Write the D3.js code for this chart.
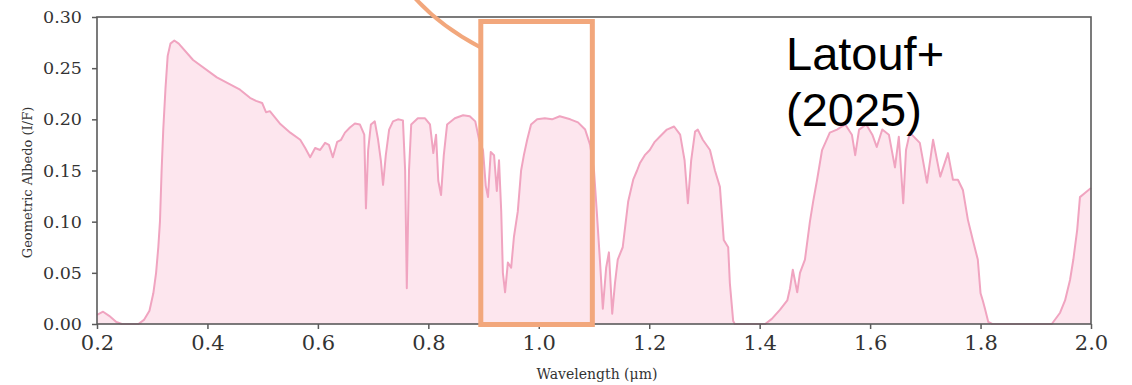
<!DOCTYPE html>
<html>
<head>
<meta charset="utf-8">
<script src="https://cdn.jsdelivr.net/npm/d3@7"></script>
<style>
  html, body { margin: 0; padding: 0; background: #fff; }
  svg { display: block; }
</style>
</head>
<body>
<svg id="chart" width="1132" height="385"></svg>
<script>
// Reflected-light spectrum: wavelength (µm) and geometric albedo (I/F)
const wavelength = [
  0.200, 0.211, 0.222, 0.235, 0.245, 0.275, 0.285, 0.295, 0.302, 0.307,
  0.311, 0.314, 0.317, 0.320, 0.324, 0.328, 0.333, 0.340, 0.348, 0.374,
  0.417, 0.459, 0.477, 0.488, 0.499, 0.506, 0.513, 0.531, 0.550, 0.568,
  0.577, 0.586, 0.595, 0.604, 0.613, 0.620, 0.627, 0.635, 0.642, 0.649,
  0.658, 0.667, 0.676, 0.684, 0.687, 0.691, 0.696, 0.703, 0.709, 0.714,
  0.718, 0.723, 0.729, 0.736, 0.745, 0.754, 0.758, 0.761, 0.765, 0.769,
  0.781, 0.794, 0.803, 0.809, 0.814, 0.818, 0.823, 0.828, 0.834, 0.848,
  0.863, 0.875, 0.885, 0.892, 0.899, 0.904, 0.908, 0.913, 0.919, 0.924,
  0.928, 0.932, 0.935, 0.939, 0.944, 0.950, 0.955, 0.962, 0.968, 0.973,
  0.979, 0.986, 0.997, 1.011, 1.024, 1.038, 1.057, 1.071, 1.084, 1.093,
  1.100, 1.105, 1.111, 1.116, 1.122, 1.127, 1.133, 1.138, 1.143, 1.152,
  1.162, 1.171, 1.178, 1.183, 1.192, 1.201, 1.210, 1.219, 1.232, 1.245,
  1.256, 1.264, 1.270, 1.276, 1.283, 1.288, 1.297, 1.310, 1.319, 1.328,
  1.335, 1.343, 1.346, 1.352, 1.355, 1.410, 1.422, 1.437, 1.450, 1.455,
  1.460, 1.468, 1.473, 1.482, 1.491, 1.497, 1.504, 1.513, 1.527, 1.540,
  1.555, 1.567, 1.573, 1.580, 1.593, 1.604, 1.612, 1.622, 1.634, 1.645,
  1.652, 1.660, 1.665, 1.672, 1.690, 1.703, 1.714, 1.727, 1.741, 1.750,
  1.759, 1.768, 1.777, 1.786, 1.795, 1.800, 1.804, 1.808, 1.814, 1.821,
  1.929, 1.944, 1.953, 1.962, 1.968, 1.975, 1.980, 1.989, 2.000
];
const albedo = [
  0.009, 0.012, 0.008, 0.002, 0.000, 0.000, 0.004, 0.013, 0.030, 0.050,
  0.075, 0.100, 0.150, 0.190, 0.230, 0.262, 0.274, 0.277, 0.274, 0.258,
  0.241, 0.229, 0.221, 0.218, 0.216, 0.207, 0.208, 0.196, 0.187, 0.180,
  0.172, 0.163, 0.172, 0.170, 0.177, 0.175, 0.163, 0.178, 0.180, 0.187,
  0.192, 0.196, 0.195, 0.185, 0.113, 0.170, 0.195, 0.198, 0.180, 0.160,
  0.136, 0.165, 0.190, 0.198, 0.200, 0.199, 0.150, 0.035, 0.150, 0.195,
  0.201, 0.201, 0.195, 0.167, 0.185, 0.140, 0.126, 0.165, 0.195, 0.201,
  0.204, 0.203, 0.198, 0.180, 0.170, 0.135, 0.124, 0.168, 0.165, 0.130,
  0.160, 0.110, 0.050, 0.031, 0.060, 0.055, 0.085, 0.110, 0.150, 0.165,
  0.180, 0.195, 0.200, 0.201, 0.200, 0.203, 0.200, 0.197, 0.190, 0.175,
  0.150, 0.110, 0.060, 0.015, 0.055, 0.070, 0.010, 0.040, 0.063, 0.075,
  0.120, 0.141, 0.150, 0.157, 0.165, 0.170, 0.178, 0.183, 0.190, 0.193,
  0.185, 0.160, 0.118, 0.160, 0.188, 0.190, 0.180, 0.170, 0.150, 0.134,
  0.082, 0.075, 0.040, 0.003, 0.000, 0.000, 0.005, 0.014, 0.023, 0.035,
  0.053, 0.031, 0.050, 0.063, 0.100, 0.120, 0.141, 0.170, 0.187, 0.190,
  0.195, 0.185, 0.165, 0.190, 0.195, 0.185, 0.173, 0.190, 0.185, 0.153,
  0.183, 0.118, 0.170, 0.187, 0.177, 0.138, 0.180, 0.144, 0.167, 0.141,
  0.141, 0.131, 0.102, 0.082, 0.063, 0.030, 0.023, 0.015, 0.002, 0.000,
  0.000, 0.011, 0.023, 0.043, 0.063, 0.092, 0.124, 0.128, 0.133
];
const xTicks = [0.2, 0.4, 0.6, 0.8, 1.0, 1.2, 1.4, 1.6, 1.8, 2.0];
const yTicks = [0.00, 0.05, 0.10, 0.15, 0.20, 0.25, 0.30];
const xLabel = "Wavelength (\u03bcm)";
const yLabel = "Geometric Albedo (I/F)";
const citation = ["Latouf+", "(2025)"];
// highlighted wavelength window (µm)
const highlight = [0.895, 1.097];

const svg = d3.select("#chart");
const margin = { left: 97, right: 41, top: 17, bottom: 61 };
const W = 1132, H = 385;

const x = d3.scaleLinear().domain([0.2, 2.0]).range([margin.left, W - margin.right]);
const y = d3.scaleLinear().domain([0, 0.30]).range([H - margin.bottom, margin.top]);

const pts = wavelength.map((w, i) => [w, albedo[i]]);

const serif = "'DejaVu Serif', serif";
const axisColor = "#5a5a5a";
const textColor = "#333";

// filled spectrum
svg.append("path")
  .datum(pts)
  .attr("fill", "#fde6ee")
  .attr("d", d3.area().x(d => x(d[0])).y0(y(0)).y1(d => y(d[1])));

svg.append("path")
  .datum(pts)
  .attr("fill", "none")
  .attr("stroke", "#f0a4c0")
  .attr("stroke-width", 2)
  .attr("stroke-linejoin", "round")
  .attr("d", d3.line().x(d => x(d[0])).y(d => y(d[1])));

// axes
const xAxis = svg.append("g")
  .attr("transform", `translate(0,${y(0)})`)
  .call(d3.axisBottom(x).tickValues(xTicks).tickFormat(d3.format(".1f")).tickSize(5).tickPadding(6));
xAxis.selectAll("text").attr("font-family", serif).attr("font-size", 21).attr("fill", textColor);

const yAxis = svg.append("g")
  .attr("transform", `translate(${x(0.2)},0)`)
  .call(d3.axisLeft(y).tickValues(yTicks).tickFormat(d3.format(".2f")).tickSize(5).tickPadding(10));
yAxis.selectAll("text").attr("font-family", serif).attr("font-size", 17.5).attr("fill", textColor);

[xAxis, yAxis].forEach(g => {
  g.select(".domain").remove();
  g.selectAll(".tick line").attr("stroke", axisColor).attr("stroke-width", 1.5);
});

// frame
svg.append("rect")
  .attr("x", x(0.2)).attr("y", y(0.30))
  .attr("width", x(2.0) - x(0.2)).attr("height", y(0) - y(0.30))
  .attr("fill", "none")
  .attr("stroke", axisColor)
  .attr("stroke-width", 1.6);

// axis titles
svg.append("text")
  .attr("x", (x(0.2) + x(2.0)) / 2 + 3)
  .attr("y", 379)
  .attr("text-anchor", "middle")
  .attr("font-family", serif)
  .attr("font-size", 14)
  .attr("fill", textColor)
  .text(xLabel);

svg.append("text")
  .attr("transform", `translate(32,${(y(0) + y(0.30)) / 2 + 12}) rotate(-90)`)
  .attr("text-anchor", "middle")
  .attr("font-family", serif)
  .attr("font-size", 13)
  .attr("fill", textColor)
  .text(yLabel);

// highlighted window and its callout
const orange = "#f2a77c";
svg.append("rect")
  .attr("x", x(highlight[0])).attr("y", 21.5)
  .attr("width", x(highlight[1]) - x(highlight[0]))
  .attr("height", 324.5 - 21.5)
  .attr("fill", "none")
  .attr("stroke", orange)
  .attr("stroke-width", 5);

svg.append("path")
  .attr("d", `M414,-3 Q440,26 ${x(highlight[0]) - 1},47`)
  .attr("fill", "none")
  .attr("stroke", orange)
  .attr("stroke-width", 4);

// citation
svg.append("text")
  .attr("x", 786)
  .attr("font-family", "'Liberation Sans', Arial, sans-serif")
  .attr("font-size", 47)
  .attr("fill", "#000")
  .selectAll("tspan")
  .data(citation)
  .join("tspan")
  .attr("x", 786)
  .attr("y", (d, i) => 70 + i * 56)
  .text(d => d);
</script>
</body>
</html>
